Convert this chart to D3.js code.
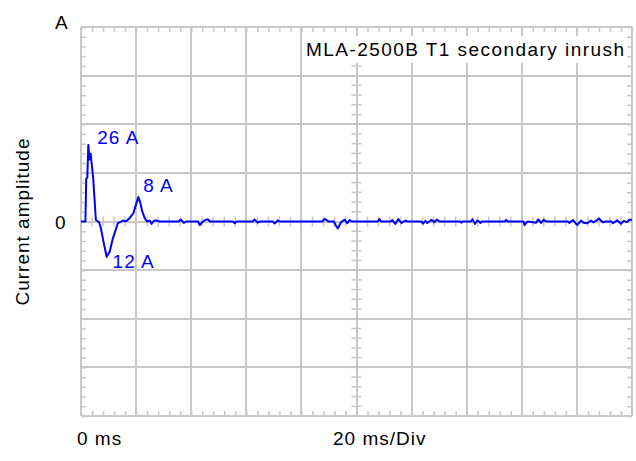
<!DOCTYPE html>
<html>
<head>
<meta charset="utf-8">
<script src="https://cdn.jsdelivr.net/npm/d3@7"></script>
<style>
  body { margin: 0; background: #fff; }
  text { font-family: "Liberation Sans", Arial, sans-serif; font-size: 19px; letter-spacing: 1px; }
</style>
</head>
<body>
<script>
// waveform: time in ms, current in A
const timeMs = [
  0, 1.6, 1.9, 2.3, 2.65, 3.1, 3.5, 4.4, 5.4, 6.2, 6.6, 7.2, 8.2, 9.3, 9.9, 10.4, 11.5, 13.4, 14.2, 15.2,
  16.4, 17.5, 19.0, 20.2, 20.8, 21.5, 22.2, 23.2, 24.0, 25.0, 25.6, 26.4, 27.3, 28.5,
  35.5, 36.2, 37.3, 38.2, 42.5, 43.1, 44.0, 44.9, 46.0, 46.8, 55.2, 55.8, 56.5,
  62.4, 63.0, 64.1, 64.8, 69.7, 70.3, 71.4, 72.1, 87.7, 88.4, 89.1, 89.8,
  91.8, 92.4, 93.2, 94.2, 95.0, 95.7, 96.7, 97.5, 98.2, 107.7, 108.3, 108.9,
  112.4, 113.0, 114.1, 115.2, 116.3, 117.8, 118.5, 123.5, 124.2, 125.0, 125.7, 126.4,
  127.2, 128.3, 129.2, 130.1, 137.6, 138.0, 138.5, 141.6, 142.1, 143.0, 143.8, 144.5,
  145.0, 145.6, 153.9, 154.3, 154.8, 160.6, 161.0, 161.6, 162.2, 165.2, 166.0, 167.0,
  168.0, 168.8, 176.8, 177.2, 178.6, 180.1, 181.5, 182.4, 183.7, 185.1, 186.0, 187.0,
  188.0, 188.8, 189.5, 190.4, 192.6, 193.1, 194.6, 196.0, 197.0, 198.2, 199.0, 200
];
const currentA = [
  0, 0, 14.5, 15, 26, 21, 23, 15, 0.5, 0, -0.3, -2.2, -7, -12, -11, -10.3, -6, -0.5, -0.2, 0.3,
  0.1, 1, 2.8, 6.5, 8.3, 6.5, 3.5, 1, 0, 0.3, -0.8, 0.2, 0.4, 0,
  0, 0.7, -0.5, 0, 0, -1.2, -0.2, 0.4, 0.8, 0, 0, -0.6, 0,
  0, 0.7, -0.4, 0, 0, -0.7, 0.4, 0, 0, 0.9, 0.5, 0,
  0, -1.2, -2.4, -0.5, 0.2, 0.6, -0.6, 0.5, 0, 0, 0.8, 0,
  0, 0.5, -0.8, 0.8, -0.5, 0.3, 0, 0, -0.7, 0.2, -0.5, 0,
  0.6, -0.2, 0.7, 0, 0, -0.4, 0, 0, 0.8, -0.8, 0.3, 0,
  -0.5, 0, 0, 0.6, 0, 0, -1.3, -0.4, 0, -0.4, 0.7, -0.5,
  0.6, 0, 0, -0.5, 0.5, -1.2, 0.3, -0.4, -0.6, 0.3, -0.3, 0.3,
  1.0, 0.2, -0.3, 0, 0, -0.6, 0.4, -0.8, 0.2, -0.2, 0.6, 0.6
];

// peak annotations
const peakText = ["26 A", "12 A", "8 A"];
const peakTime = [2.65, 9.3, 20.8];
const peakValue = [26, -12, 8.3];

const title = "MLA-2500B T1 secondary inrush";
const xTickLabels = ["0 ms", "20 ms/Div"];
const yUnit = "A";
const yZero = "0";
const yTitle = "Current amplitude";

const width = 636, height = 461;
const plotLeft = 81, plotRight = 632, plotTop = 27, plotBottom = 416;
const grid = "#c8c8c8";

const x = d3.scaleLinear([0, 200], [plotLeft, plotRight]);
const y = d3.scaleLinear([-66, 66], [plotBottom, plotTop]);

const majorX = d3.range(0, 200.01, 20);
const majorY = d3.range(-66, 66.01, 16.5);
const minorX = d3.range(0, 200.01, 4);
const minorY = d3.range(-66, 66.01, 3.3);

const svg = d3.select("body").append("svg")
    .attr("width", width)
    .attr("height", height);

// grid divisions
svg.append("g")
  .selectAll("line")
  .data(majorX)
  .join("line")
    .attr("x1", d => Math.round(x(d))).attr("x2", d => Math.round(x(d)))
    .attr("y1", plotTop).attr("y2", plotBottom)
    .attr("stroke", grid).attr("stroke-width", 2);

svg.append("g")
  .selectAll("line")
  .data(majorY)
  .join("line")
    .attr("x1", plotLeft).attr("x2", plotRight)
    .attr("y1", d => Math.round(y(d))).attr("y2", d => Math.round(y(d)))
    .attr("stroke", grid).attr("stroke-width", 2);

// minor ticks on the frame, pointing inward
const edge = (axis, tx, ty) => svg.append("g")
    .attr("transform", `translate(${tx},${ty})`)
    .call(axis.tickSize(5).tickFormat(""))
    .call(g => g.select(".domain").remove())
    .call(g => g.selectAll("line").attr("stroke", grid).attr("stroke-width", 1.5));

edge(d3.axisBottom(x).tickValues(minorX), 0, plotTop);
edge(d3.axisTop(x).tickValues(minorX), 0, plotBottom);
edge(d3.axisRight(y).tickValues(minorY), plotLeft, 0);
edge(d3.axisLeft(y).tickValues(minorY), plotRight, 0);

// minor ticks crossing the centre lines
svg.append("g")
  .selectAll("line")
  .data(minorX)
  .join("line")
    .attr("x1", d => x(d)).attr("x2", d => x(d))
    .attr("y1", y(0) - 5).attr("y2", y(0) + 5)
    .attr("stroke", grid).attr("stroke-width", 1.5);

svg.append("g")
  .selectAll("line")
  .data(minorY)
  .join("line")
    .attr("x1", x(100) - 5).attr("x2", x(100) + 5)
    .attr("y1", d => y(d)).attr("y2", d => y(d))
    .attr("stroke", grid).attr("stroke-width", 1.5);

// title box
svg.append("rect")
    .attr("x", 304).attr("y", 36)
    .attr("width", 322).attr("height", 27)
    .attr("fill", "#fff");

svg.append("text")
    .attr("x", 306).attr("y", 56)
    .style("letter-spacing", "1.45px")
    .text(title);

// trace
const line = d3.line()
    .x(i => x(timeMs[i]))
    .y(i => y(currentA[i]));

svg.append("path")
    .datum(d3.range(timeMs.length))
    .attr("fill", "none")
    .attr("stroke", "#0000ff")
    .attr("stroke-width", 2)
    .attr("stroke-linejoin", "round")
    .attr("d", line);

// peak labels
const labelOffset = [[9, -1], [6, 11], [5, -5]];
svg.append("g")
  .selectAll("text")
  .data(peakText)
  .join("text")
    .attr("x", (d, i) => x(peakTime[i]) + labelOffset[i][0])
    .attr("y", (d, i) => y(peakValue[i]) + labelOffset[i][1])
    .attr("fill", "#0000ff")
    .text(d => d);

// axis texts
svg.append("text").attr("x", 55).attr("y", 29).text(yUnit);
svg.append("text").attr("x", 55).attr("y", 229).text(yZero);
svg.append("text")
    .attr("transform", `translate(29,${y(0)}) rotate(-90)`)
    .attr("text-anchor", "middle")
    .text(yTitle);

svg.append("text").attr("x", 77).attr("y", 445).text(xTickLabels[0]);
svg.append("text").attr("x", 333).attr("y", 445).text(xTickLabels[1]);
</script>
</body>
</html>
